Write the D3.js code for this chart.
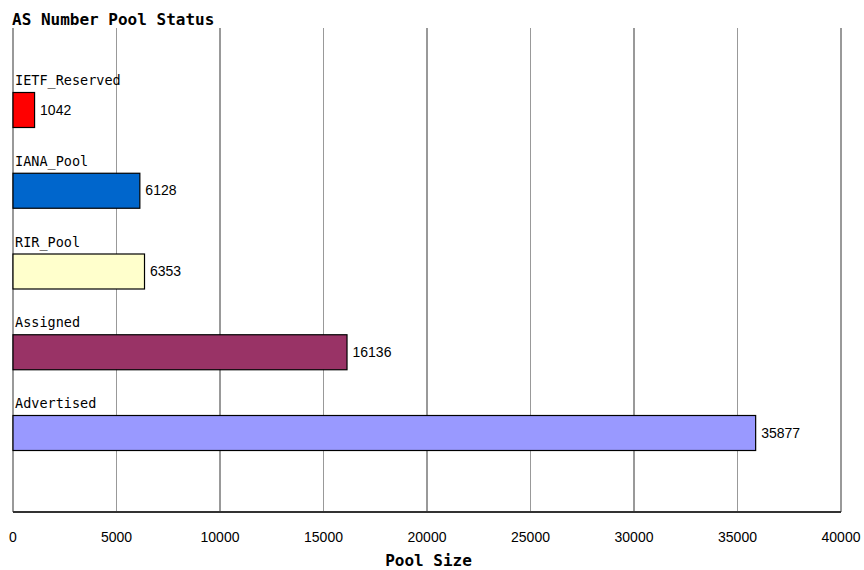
<!DOCTYPE html>
<html><head><meta charset="utf-8">
<script src="https://cdn.jsdelivr.net/npm/d3@7"></script>
<style>body{margin:0;background:#fff}</style>
</head><body>
<script>
const categories = ["IETF_Reserved","IANA_Pool","RIR_Pool","Assigned","Advertised"];
const values = [1042, 6128, 6353, 16136, 35877];
const colors = ["#ff0000","#0066cc","#ffffcc","#993366","#9999ff"];
const ticks = [0,5000,10000,15000,20000,25000,30000,35000,40000];
const title = "AS Number Pool Status";
const xTitle = "Pool Size";

(function(){
const W = 864, H = 570;
const svg = d3.select("body").append("svg").attr("width", W).attr("height", H);
const x = d3.scaleLinear().domain([0, 40000]).range([13, 841]);
const y = d3.scalePoint().domain(categories).range([110, 433]);
const plotTop = 28, plotBottom = 512, bh = 35;

svg.append("text").attr("x", 12).attr("y", 24.5).text(title)
  .attr("font-family", "DejaVu Sans Mono").attr("font-weight", "bold").attr("font-size", 16).attr("fill", "#000");

svg.selectAll("line.grid").data(ticks).enter().append("line")
  .attr("x1", d => x(d)).attr("x2", d => x(d)).attr("y1", plotTop).attr("y2", plotBottom)
  .attr("stroke", "#999").attr("stroke-width", 1.2).attr("shape-rendering", "crispEdges");
svg.append("line").attr("x1", x(0)).attr("x2", x(40000)).attr("y1", plotBottom).attr("y2", plotBottom)
  .attr("stroke", "#333").attr("stroke-width", 1.2).attr("shape-rendering", "crispEdges");

const g = svg.selectAll("g.bar").data(categories).enter().append("g");
g.append("rect").attr("x", x(0)).attr("y", d => y(d) - bh/2)
  .attr("width", (d,i) => x(values[i]) - x(0)).attr("height", bh)
  .attr("fill", (d,i) => colors[i]).attr("stroke", "#000").attr("stroke-width", 1.2);
g.append("text").attr("x", 15).attr("y", d => y(d) - bh/2 - 7.5).text(d => d)
  .attr("font-family", "DejaVu Sans Mono").attr("font-size", 13.5).attr("fill", "#000");
g.append("text").attr("x", (d,i) => x(values[i]) + 5.5).attr("y", d => y(d) + 4.5).text((d,i) => values[i])
  .attr("font-family", "Liberation Sans").attr("font-size", 14).attr("fill", "#000");

svg.selectAll("text.tick").data(ticks).enter().append("text")
  .attr("x", d => x(d)).attr("y", 542).attr("text-anchor", "middle").text(d => d)
  .attr("font-family", "Liberation Sans").attr("font-size", 14).attr("fill", "#000");

svg.append("text").attr("x", 428.5).attr("y", 566).attr("text-anchor", "middle").text(xTitle)
  .attr("font-family", "DejaVu Sans Mono").attr("font-weight", "bold").attr("font-size", 16).attr("fill", "#000");
})();
</script>
</body></html>
